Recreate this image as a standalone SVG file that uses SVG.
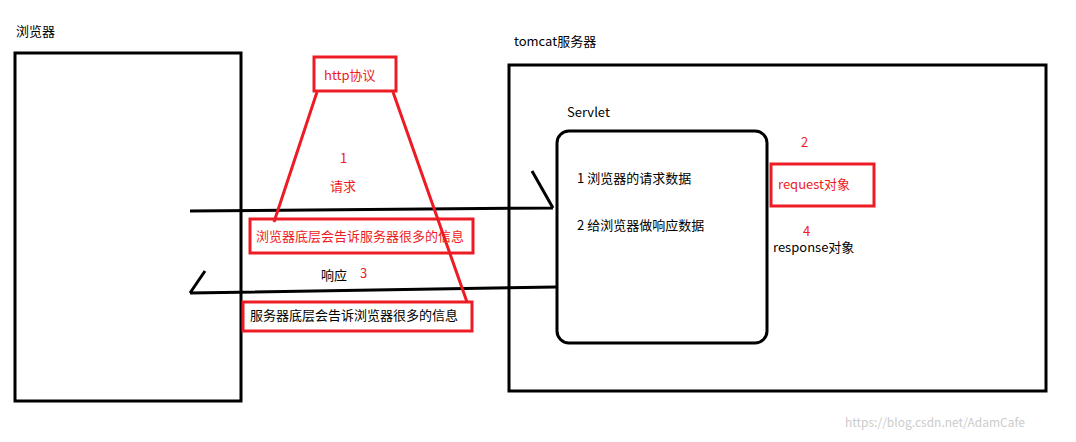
<svg xmlns="http://www.w3.org/2000/svg" width="1076" height="442" viewBox="0 0 1076 442">
<style>
.k{fill:none;stroke:#000;stroke-width:3}
.r{fill:none;stroke:#ed1c24;stroke-width:3}
text{font-family:"Noto Sans CJK SC","Noto Sans",sans-serif;font-size:13px;fill:#000}
.rt{fill:#ed1c24}
</style>
<rect width="1076" height="442" fill="#fff"/>
<g id="browser"><rect class="k" x="15" y="53" width="226" height="348"/><text x="16" y="36">浏览器</text></g>
<g id="tomcat"><rect class="k" x="509" y="65" width="537" height="326"/><text x="514" y="46">tomcat服务器</text></g>
<g id="servlet"><rect class="k" x="557" y="131" width="210" height="212" rx="12"/><text x="567" y="117">Servlet</text>
<text x="577" y="183">1 浏览器的请求数据</text><text x="577" y="230">2 给浏览器做响应数据</text></g>
<g id="http"><rect class="r" x="314" y="57" width="82" height="34"/><text class="rt" x="324" y="80">http协议</text></g>
<g id="req-info"><rect class="r" x="250" y="219" width="223" height="34"/><text class="rt" x="256" y="241">浏览器底层会告诉服务器很多的信息</text></g>
<g id="resp-info"><rect class="r" x="243" y="302" width="229" height="29"/><text x="250" y="320">服务器底层会告诉浏览器很多的信息</text></g>
<g id="request"><rect class="r" x="771" y="164" width="103" height="42"/><text class="rt" x="778" y="189">request对象</text><text class="rt" x="801" y="147">2</text></g>
<g id="response"><text x="773" y="252">response对象</text><text class="rt" x="803" y="236">4</text></g>
<text class="rt" x="340" y="163">1</text><text class="rt" x="330" y="191">请求</text>
<text x="321" y="280">响应</text><text class="rt" x="360" y="278">3</text>
<g id="connectors">
<path class="k" d="M190 211 L553 208 M532 171 L553 208"/>
<path class="k" d="M190 293 L556 287 M190 293 L205 271"/>
<path class="r" d="M317 92 L274 222 M393 92 L467 302"/>
</g>
<text x="845" y="427" style="fill:#ccc;font-size:12px">https://blog.csdn.net/AdamCafe</text>
</svg>
